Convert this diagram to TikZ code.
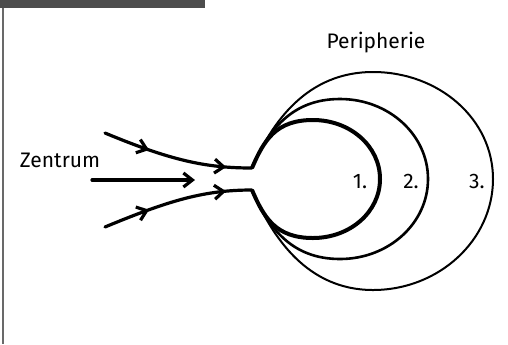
\documentclass[tikz,border=0pt]{standalone}
\usepackage{fontspec}
\setmainfont{Fira Sans}
\usetikzlibrary{arrows.meta,decorations.markings}
\definecolor{barfill}{RGB}{77,77,77}
\definecolor{framegray}{RGB}{105,105,105}
\tikzset{
    lbl/.style={font=\fontsize{10.5}{12}\selectfont, inner sep=0pt, anchor=base},
    barb/.style={-{Straight Barb[length=4.5pt, width=7pt]}},
    flowline/.style={line width=1.6pt, line cap=round, line join=round},
    flowarrow/.style={flowline, postaction={decorate}, decoration={markings,
        mark=at position 0.31 with {\arrow{Straight Barb[length=4.5pt, width=7pt]}},
        mark=at position 0.83 with {\arrow{Straight Barb[length=4.5pt, width=7pt]}}}},
    ringone/.style={line width=2pt, line join=round},
    ringtwo/.style={line width=1.3pt, line join=round},
    ringthree/.style={line width=1pt, line join=round}
}

\begin{document}
\begin{tikzpicture}[x=0.5pt, y=-0.5pt]
    \useasboundingbox (0,0) rectangle (508,344);
    % frame
    \fill[barfill] (0,0) rectangle (205,8);
    \draw[framegray, line width=1pt] (2.5,8) -- (2.5,344);

    % labels
    \node[lbl] (zentrum) at (60,167) {Zentrum};
    \node[lbl] (peri) at (376,48) {Peripherie};
    \node[lbl] (one) at (360,188) {1.};
    \node[lbl] (two) at (411,188) {2.};
    \node[lbl] (three) at (477,188) {3.};

    % inflow
    \coordinate (intop) at (105,133);
    \coordinate (inbot) at (105,227);
    \coordinate (inmid) at (92,180);
    \coordinate (inmidend) at (195,180);
    \coordinate (jtop) at (252,168);
    \coordinate (jbot) at (252,190);

    \draw[flowarrow] (intop) .. controls (170,160) and (205,168) .. (jtop);
    \draw[flowarrow] (inbot) .. controls (170,200) and (205,190) .. (jbot);
    \draw[flowline, barb] (inmid) -- (inmidend);

    % rings
    \draw[ringone] (jtop) .. controls (264,140) and (276,120) .. (313,120)
        .. controls (350,120) and (380,146) .. (380,179)
        .. controls (380,212) and (350,238) .. (313,238)
        .. controls (276,238) and (264,218) .. (jbot);
    \draw[ringtwo] (jtop) .. controls (268,131) and (291,99) .. (340,99)
        .. controls (389,99) and (428,135) .. (428,179)
        .. controls (428,223) and (389,259) .. (340,259)
        .. controls (291,259) and (268,227) .. (jbot);
    \draw[ringthree] (jtop) .. controls (272,122) and (307,72) .. (373,72)
        .. controls (439,72) and (493,119) .. (493,179)
        .. controls (493,240) and (439,290) .. (373,290)
        .. controls (307,290) and (272,237) .. (jbot);
\end{tikzpicture}
\end{document}
